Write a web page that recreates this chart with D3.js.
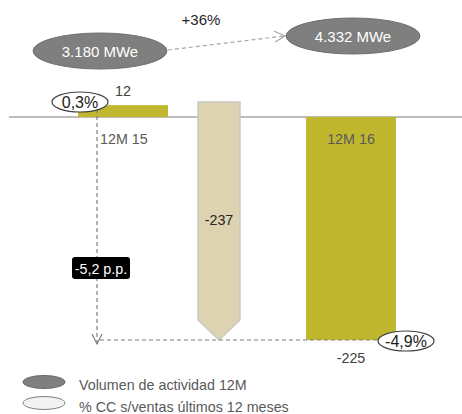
<!DOCTYPE html>
<html><head><meta charset="utf-8">
<script src="https://cdn.jsdelivr.net/npm/d3@7"></script>
<style>body{margin:0;background:#fff;}svg{display:block;font-family:"Liberation Sans",Arial,sans-serif;}</style>
</head><body>
<script>
// ---- data ----
const categories = ["12M 15", "Variación", "12M 16"];
const values = [12, -237, -225];           // bar values (waterfall)
const kinds = ["total", "delta", "total"];
const volumeLabels = ["3.180 MWe", "4.332 MWe"];
const volumeGrowth = "+36%";
const ccPct = ["0,3%", "-4,9%"];
const ccChange = "-5,2 p.p.";
const valueLabels = ["12", "-237", "-225"];
const legendLabels = ["Volumen de actividad 12M", "% CC s/ventas últimos 12 meses"];

const W = 462, H = 414;
const svg = d3.select("body").append("svg").attr("width", W).attr("height", H);

const y = d3.scaleLinear().domain([-225, 0]).range([340, 117]);
const x = d3.scaleOrdinal().domain(categories).range([123, 219, 351]);
const wTotal = 90, wDelta = 42;
const fs = 14.3;

const olive = "#c1b72f", beige = "#ded3b1", dark = "#7f7f7f", txt = "#595959";

// baseline
svg.append("line").attr("x1", 9).attr("x2", W).attr("y1", y(0)).attr("y2", y(0))
  .attr("stroke", "#a6a6a6").attr("stroke-width", 1.5);

// bars
let running = 0;
categories.forEach((c, i) => {
  const v = values[i];
  if (kinds[i] === "total") {
    svg.append("rect").attr("x", x(c) - wTotal / 2).attr("width", wTotal)
      .attr("y", y(Math.max(0, v))).attr("height", Math.abs(y(v) - y(0)))
      .attr("fill", olive);
    running = v;
  } else {
    const top = y(running) - 3, bot = y(running + v), cx = x(c), hw = wDelta / 2, tip = 20;
    const p = d3.path();
    p.moveTo(cx - hw, top); p.lineTo(cx + hw, top); p.lineTo(cx + hw, bot - tip);
    p.lineTo(cx, bot); p.lineTo(cx - hw, bot - tip); p.closePath();
    svg.append("path").attr("d", p.toString()).attr("fill", beige)
      .attr("stroke", "#c8c8c8").attr("stroke-width", 1.5);
    running += v;
  }
});

// value labels
svg.append("text").attr("x", x(categories[0])).attr("y", y(values[0]) - 9)
  .attr("text-anchor", "middle").attr("font-size", fs).attr("fill", "#404040").text(valueLabels[0]);
svg.append("text").attr("x", x(categories[1])).attr("y", 225)
  .attr("text-anchor", "middle").attr("font-size", fs).attr("fill", "#262626").text(valueLabels[1]);
svg.append("text").attr("x", x(categories[2])).attr("y", y(values[2]) + 23)
  .attr("text-anchor", "middle").attr("font-size", fs).attr("fill", "#404040").text(valueLabels[2]);

// category labels
svg.append("text").attr("x", 100).attr("y", 144).attr("font-size", fs).attr("fill", txt).text(categories[0]);
svg.append("text").attr("x", x(categories[2])).attr("y", 144).attr("text-anchor", "middle")
  .attr("font-size", fs).attr("fill", txt).text(categories[2]);

// dashed connectors
const dash = "4,3";
svg.append("line").attr("x1", 97).attr("x2", 97).attr("y1", 109).attr("y2", y(-225) + 4)
  .attr("stroke", dark).attr("stroke-width", 1.2).attr("stroke-dasharray", dash);
svg.append("path").attr("d", `M92,${y(-225) - 6}L97,${y(-225) + 4}L102,${y(-225) - 6}`)
  .attr("fill", "none").attr("stroke", dark).attr("stroke-width", 1.2);
svg.append("line").attr("x1", 100).attr("x2", 385).attr("y1", y(-225)).attr("y2", y(-225))
  .attr("stroke", dark).attr("stroke-width", 1.2).attr("stroke-dasharray", dash);

// -5,2 p.p. box
svg.append("rect").attr("x", 72).attr("y", 257).attr("width", 58).attr("height", 22).attr("rx", 3).attr("fill", "#000");
svg.append("text").attr("x", 101).attr("y", 274).attr("text-anchor", "middle").attr("font-size", fs)
  .attr("fill", "#fff").text(ccChange);

// CC % ellipses
[[80, 102, ccPct[0]], [406, 341, ccPct[1]]].forEach(([cx, cy, t]) => {
  svg.append("ellipse").attr("cx", cx).attr("cy", cy).attr("rx", 28).attr("ry", 10)
    .attr("fill", "#fff").attr("stroke", "#404040").attr("stroke-width", 1.2);
  svg.append("text").attr("x", cx).attr("y", cy + 6).attr("text-anchor", "middle").attr("font-size", 16)
    .attr("fill", "#1a1a1a").text(t);
});

// volume ellipses + arrow
const vol = [[100, 51], [353, 36]];
svg.append("line").attr("x1", 168).attr("y1", 50).attr("x2", 284).attr("y2", 36)
  .attr("stroke", "#a6a6a6").attr("stroke-width", 1.2).attr("stroke-dasharray", "4,3");
svg.append("path").attr("d", "M274,31L285,36L275,42").attr("fill", "none").attr("stroke", "#a6a6a6").attr("stroke-width", 1.2);
vol.forEach(([cx, cy], i) => {
  svg.append("ellipse").attr("cx", cx).attr("cy", cy).attr("rx", 67).attr("ry", 18)
    .attr("fill", dark).attr("stroke", "#6f6f6f");
  svg.append("text").attr("x", cx).attr("y", cy + 6).attr("text-anchor", "middle").attr("font-size", 15)
    .attr("fill", "#fff").text(volumeLabels[i]);
});
svg.append("text").attr("x", 201).attr("y", 25).attr("text-anchor", "middle").attr("font-size", 15)
  .attr("fill", "#262626").text(volumeGrowth);

// legend
svg.append("ellipse").attr("cx", 44).attr("cy", 382).attr("rx", 21).attr("ry", 6.5).attr("fill", dark).attr("stroke", "#666");
svg.append("ellipse").attr("cx", 44).attr("cy", 403).attr("rx", 21).attr("ry", 6.5).attr("fill", "#f2f2f2").attr("stroke", "#7f7f7f");
svg.append("text").attr("x", 79).attr("y", 390).attr("font-size", fs).attr("fill", txt).text(legendLabels[0]);
svg.append("text").attr("x", 79).attr("y", 412).attr("font-size", fs).attr("fill", txt).text(legendLabels[1]);
</script>
</body></html>
